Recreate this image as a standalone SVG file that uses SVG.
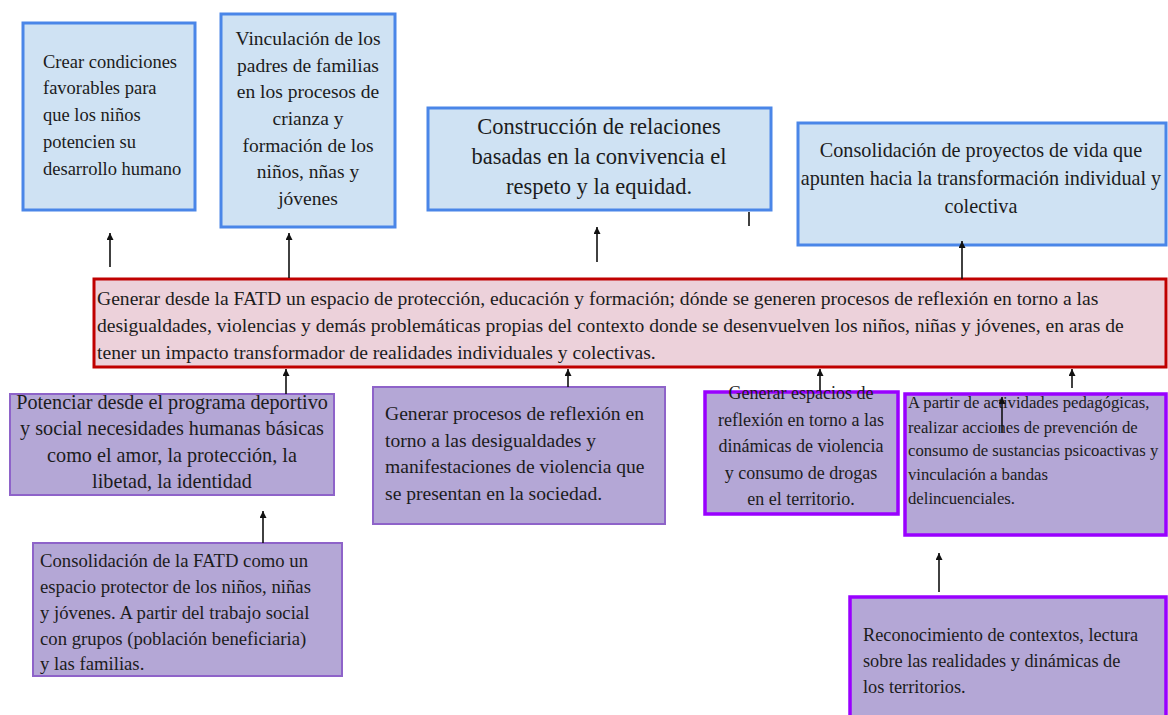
<svg xmlns="http://www.w3.org/2000/svg" width="1168" height="715" viewBox="0 0 1168 715">
<defs>
<marker id="ah" viewBox="0 0 10 10" refX="10" refY="5" markerWidth="7" markerHeight="7" markerUnits="userSpaceOnUse" orient="auto">
<path d="M0,0 L10,5 L0,10 z" fill="#111"/>
</marker>
<style>
text{font-family:"Liberation Serif","Times New Roman",serif;fill:#1c1c1c}
.blue{fill:#cfe2f3;stroke:#4a86e8;stroke-width:3}
.red{fill:#ecd1da;stroke:#c00000;stroke-width:3}
.pl{fill:#b4a7d6;stroke:#8e63c9;stroke-width:2}
.pv{fill:#b4a7d6;stroke:#9900ff;stroke-width:3.5}
.c{text-anchor:middle}
.ln{stroke:#111;stroke-width:1.6;fill:none}
</style>
</defs>
<rect width="1168" height="715" fill="#fff"/>

<g id="n-crear">
<rect class="blue" x="23" y="23" width="172" height="187"/>
<text font-size="18.5" x="43"><tspan x="43" y="67.5">Crear condiciones</tspan><tspan x="43" y="94.3">favorables para</tspan><tspan x="43" y="121">que los niños</tspan><tspan x="43" y="147.8">potencien su</tspan><tspan x="43" y="174.5">desarrollo humano</tspan></text>
</g>
<g id="n-vinculacion">
<rect class="blue" x="221" y="14" width="174" height="213"/>
<text class="c" font-size="19.5"><tspan x="308" y="45">Vinculación de los</tspan><tspan x="308" y="71.7">padres de familias</tspan><tspan x="308" y="98.3">en los procesos de</tspan><tspan x="308" y="125">crianza y</tspan><tspan x="308" y="151.7">formación de los</tspan><tspan x="308" y="178.3">niños, nñas y</tspan><tspan x="308" y="205">jóvenes</tspan></text>
</g>
<g id="n-construccion">
<rect class="blue" x="428" y="108" width="343" height="102"/>
<text class="c" font-size="22.5"><tspan x="599" y="134">Construcción de relaciones</tspan><tspan x="599" y="164">basadas en la convivencia el</tspan><tspan x="599" y="194">respeto y la equidad.</tspan></text>
</g>
<g id="n-proyectos">
<rect class="blue" x="798" y="123" width="368" height="122"/>
<text class="c" font-size="20.2"><tspan x="981" y="157">Consolidación de proyectos de vida que</tspan><tspan x="981" y="185">apunten hacia la transformación individual y</tspan><tspan x="981" y="213">colectiva</tspan></text>
</g>
<g id="n-central">
<rect class="red" x="94" y="279" width="1072" height="88"/>
<text font-size="19.6"><tspan x="97" y="305">Generar desde la FATD un espacio de protección, educación y formación; dónde se generen procesos de reflexión en torno a las</tspan><tspan x="97" y="332">desigualdades, violencias y demás problemáticas propias del contexto donde se desenvuelven los niños, niñas y jóvenes, en aras de</tspan><tspan x="97" y="358.5">tener un impacto transformador de realidades individuales y colectivas.</tspan></text>
</g>
<g id="n-potenciar">
<rect class="pl" x="10" y="394" width="324" height="101"/>
<text class="c" font-size="20.2"><tspan x="172" y="408.5">Potenciar desde el programa deportivo</tspan><tspan x="172" y="435">y social necesidades humanas básicas</tspan><tspan x="172" y="461.5">como el amor, la protección, la</tspan><tspan x="172" y="488">libetad, la identidad</tspan></text>
</g>
<g id="n-procesos">
<rect class="pl" x="373" y="387" width="292" height="137"/>
<text font-size="19.6"><tspan x="385" y="420">Generar procesos de reflexión en</tspan><tspan x="385" y="446.5">torno a las desigualdades y</tspan><tspan x="385" y="473">manifestaciones de violencia que</tspan><tspan x="385" y="499.5">se presentan en la sociedad.</tspan></text>
</g>
<g id="n-espacios">
<rect class="pv" x="705" y="392" width="193" height="122"/>
<text class="c" font-size="18"><tspan x="801" y="399">Generar espacios de</tspan><tspan x="801" y="425.5">reflexión en torno a las</tspan><tspan x="801" y="452">dinámicas de violencia</tspan><tspan x="801" y="478.5">y consumo de drogas</tspan><tspan x="801" y="505">en el territorio.</tspan></text>
</g>
<g id="n-actividades">
<rect class="pv" x="905" y="394" width="261" height="141"/>
<text font-size="16.7"><tspan x="908" y="408">A partir de actividades pedagógicas,</tspan><tspan x="908" y="432.5">realizar acciones de prevención de</tspan><tspan x="908" y="456">consumo de sustancias psicoactivas y</tspan><tspan x="908" y="480">vinculación a bandas</tspan><tspan x="908" y="503.5">delincuenciales.</tspan></text>
</g>
<g id="n-consolidacion-fatd">
<rect class="pl" x="33" y="543" width="309" height="133"/>
<text font-size="18.7"><tspan x="40" y="567">Consolidación de la FATD como un</tspan><tspan x="40" y="593">espacio protector de los niños, niñas</tspan><tspan x="40" y="619">y jóvenes. A partir del trabajo social</tspan><tspan x="40" y="645">con grupos (población beneficiaria)</tspan><tspan x="40" y="670">y las familias.</tspan></text>
</g>
<g id="n-reconocimiento">
<rect class="pv" x="850" y="597" width="316" height="130"/>
<text font-size="18.3"><tspan x="863" y="641">Reconocimiento de contextos, lectura</tspan><tspan x="863" y="667">sobre las realidades y dinámicas de</tspan><tspan x="863" y="693">los territorios.</tspan></text>
</g>

<g id="connectors">
<line class="ln" x1="110" y1="267" x2="110" y2="233" marker-end="url(#ah)"/>
<line class="ln" x1="289" y1="278" x2="289" y2="233" marker-end="url(#ah)"/>
<line class="ln" x1="597" y1="262" x2="597" y2="227" marker-end="url(#ah)"/>
<line class="ln" x1="749" y1="212" x2="749" y2="226"/>
<line class="ln" x1="962" y1="279" x2="962" y2="241" marker-end="url(#ah)"/>
<line class="ln" x1="286" y1="394" x2="286" y2="369" marker-end="url(#ah)"/>
<line class="ln" x1="568" y1="387" x2="568" y2="369" marker-end="url(#ah)"/>
<line class="ln" x1="820" y1="391" x2="820" y2="369" marker-end="url(#ah)"/>
<line class="ln" x1="1072" y1="388" x2="1072" y2="369" marker-end="url(#ah)"/>
<line class="ln" x1="1002" y1="433" x2="1002" y2="397" marker-end="url(#ah)"/>
<line class="ln" x1="263" y1="543" x2="263" y2="511" marker-end="url(#ah)"/>
<line class="ln" x1="939" y1="592" x2="939" y2="553" marker-end="url(#ah)"/>
</g>
</svg>
